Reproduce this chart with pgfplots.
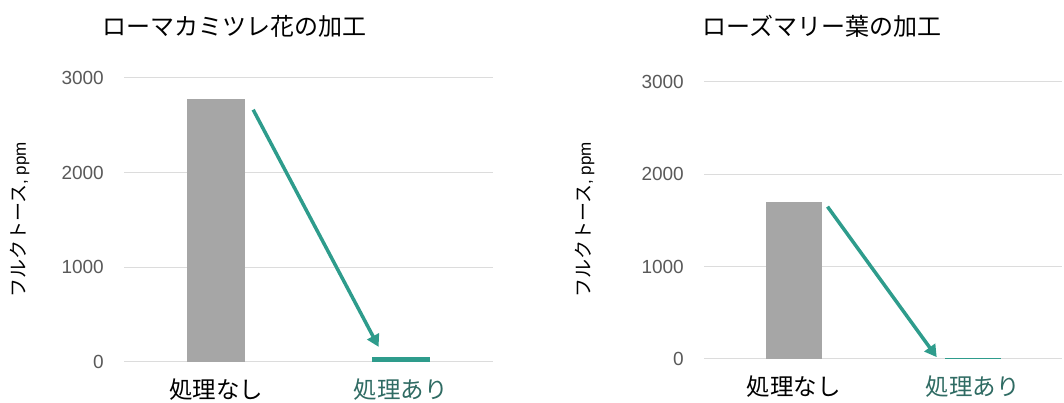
\documentclass[border=0pt]{standalone}
\usepackage{fontspec}
\setmainfont{Noto Sans CJK JP}
\newfontfamily\latin{Liberation Sans}
\usepackage{pgfplots}
\pgfplotsset{compat=1.18}
\usetikzlibrary{arrows.meta}
\definecolor{barGray}{HTML}{A6A6A6}
\definecolor{tealA}{HTML}{2E9C8C}
\definecolor{tealText}{HTML}{2F6B63}
\definecolor{tickGray}{HTML}{595959}
\definecolor{gridGray}{HTML}{DCDCDC}

\pgfplotsset{
  panel/.style={
    scale only axis,
    ybar, bar shift=0pt,
    ymin=0, ymax=3000,
    xmin=-0.5, xmax=1.5,
    ytick={0,1000,2000,3000},
    xtick={0,1},
    xticklabels={処理なし, \textcolor{tealText}{処理あり}},
    axis line style={draw=none},
    major tick style={draw=none},
    ymajorgrids, grid style={gridGray, line width=1pt},
    /pgf/number format/assume math mode=true,
    /pgf/number format/1000 sep={},
    yticklabel style={font=\latin\fontsize{19}{20}\selectfont, text=tickGray, anchor=east, inner sep=0pt, xshift=-20pt},
    xticklabel style={font=\fontsize{23.5}{25}\selectfont, anchor=north, inner sep=0pt, yshift=-12pt},
    clip=false,
  },
}

\begin{document}
\begin{tikzpicture}[x=1pt,y=1pt]
\path[use as bounding box] (0,0) rectangle (1064,403);

% left panel
\begin{axis}[panel, at={(124pt,41pt)}, anchor=south west,
    width=369pt, height=284pt, bar width=58pt]
\addplot[fill=barGray, draw=none] coordinates {(0,2775)};
\addplot[fill=tealA, draw=none] coordinates {(1,55)};
\draw[tealA, line width=3.5pt, -{Triangle[length=12pt,width=13pt]}]
  (axis cs:0.2,2665) -- (axis cs:0.88,160);
\end{axis}

% right panel
\begin{axis}[panel, at={(704pt,44pt)}, anchor=south west,
    width=358pt, height=277pt, bar width=56pt]
\addplot[fill=barGray, draw=none] coordinates {(0,1700)};
\addplot[fill=tealA, draw=none] coordinates {(1,8)};
\draw[tealA, line width=3.5pt, -{Triangle[length=12pt,width=13pt]}]
  (axis cs:0.19,1650) -- (axis cs:0.8,20);
\end{axis}

\node[font=\fontsize{24}{26}\selectfont] at (234,377) {ローマカミツレ花の加工};
\node[font=\fontsize{24}{26}\selectfont] at (822,377) {ローズマリー葉の加工};
\node[rotate=90, font=\fontsize{19}{20}\selectfont] at (20,183) {フルクトース{\latin\fontsize{17}{18}\selectfont, ppm}};
\node[rotate=90, font=\fontsize{19}{20}\selectfont] at (585,183) {フルクトース{\latin\fontsize{17}{18}\selectfont, ppm}};
\end{tikzpicture}
\end{document}
